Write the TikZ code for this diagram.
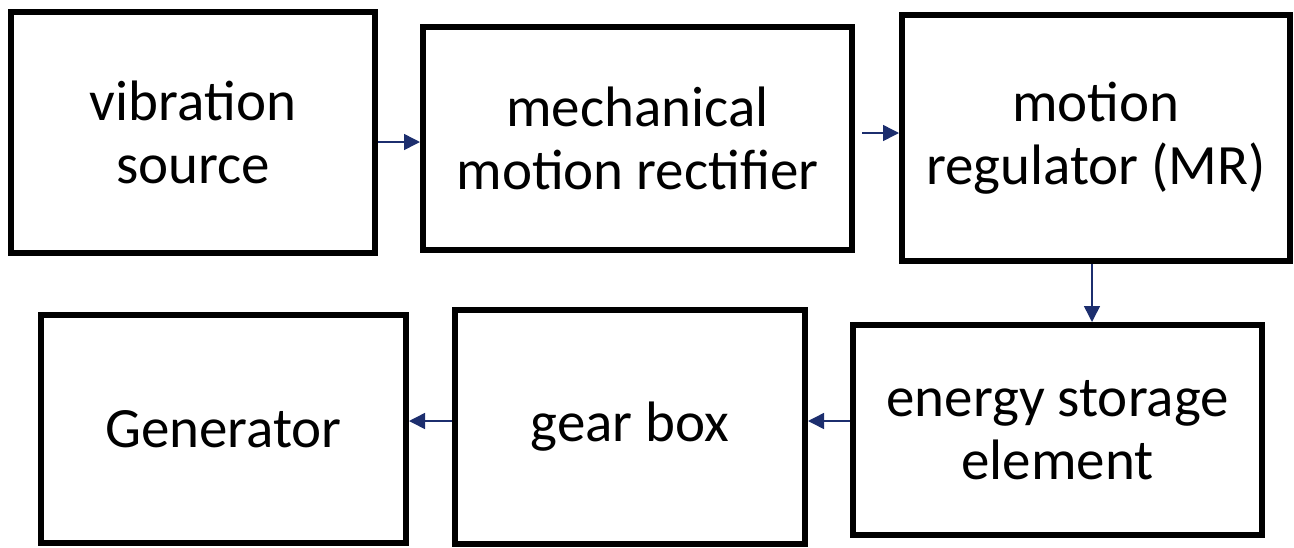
\documentclass[tikz,border=0pt]{standalone}
\usepackage{fontspec}
\setmainfont{Carlito}
\usetikzlibrary{arrows.meta}
\definecolor{arrnavy}{RGB}{28,46,110}
\tikzset{
  blockbox/.style={draw=black, line width=6pt, fill=white, align=center, inner sep=0pt,
    font=\fontsize{57}{63}\selectfont},
  flowarrow/.style={draw=arrnavy, line width=1.5pt, -{Triangle[length=16pt,width=16pt]}}
}
\begin{document}
\begin{tikzpicture}[x=1pt,y=-1pt]
\useasboundingbox (0,0) rectangle (1294,547);
\node[blockbox, minimum width=364pt, minimum height=241pt] (v) at (193,132.5) {vibration\\source};
\node[blockbox, minimum width=429pt, minimum height=223pt] (m) at (637.5,138.5) {mechanical\\motion rectifier};
\node[blockbox, minimum width=388pt, minimum height=246pt] (r) at (1096,138) {motion\\regulator (MR)};
\node[blockbox, minimum width=365pt, minimum height=228pt] (G) at (223.5,429) {Generator};
\node[blockbox, minimum width=350pt, minimum height=234pt] (g) at (630,427) {gear box};
\node[blockbox, minimum width=409pt, minimum height=210pt] (e) at (1057.5,430) {energy storage\\element};
\draw[flowarrow] ([yshift=-9.5pt]v.east) coordinate (a1) -- (a1 -| m.west);
\draw[flowarrow, shorten <=7pt] ([yshift=5.5pt]m.east) coordinate (a2) -- (a2 -| r.west);
\draw[flowarrow] ([xshift=-4pt]r.south) coordinate (a3) -- (a3 |- e.north);
\draw[flowarrow] ([yshift=9pt]e.west) coordinate (a4) -- (a4 -| g.east);
\draw[flowarrow] ([yshift=6pt]g.west) coordinate (a5) -- (a5 -| G.east);
\end{tikzpicture}
\end{document}
